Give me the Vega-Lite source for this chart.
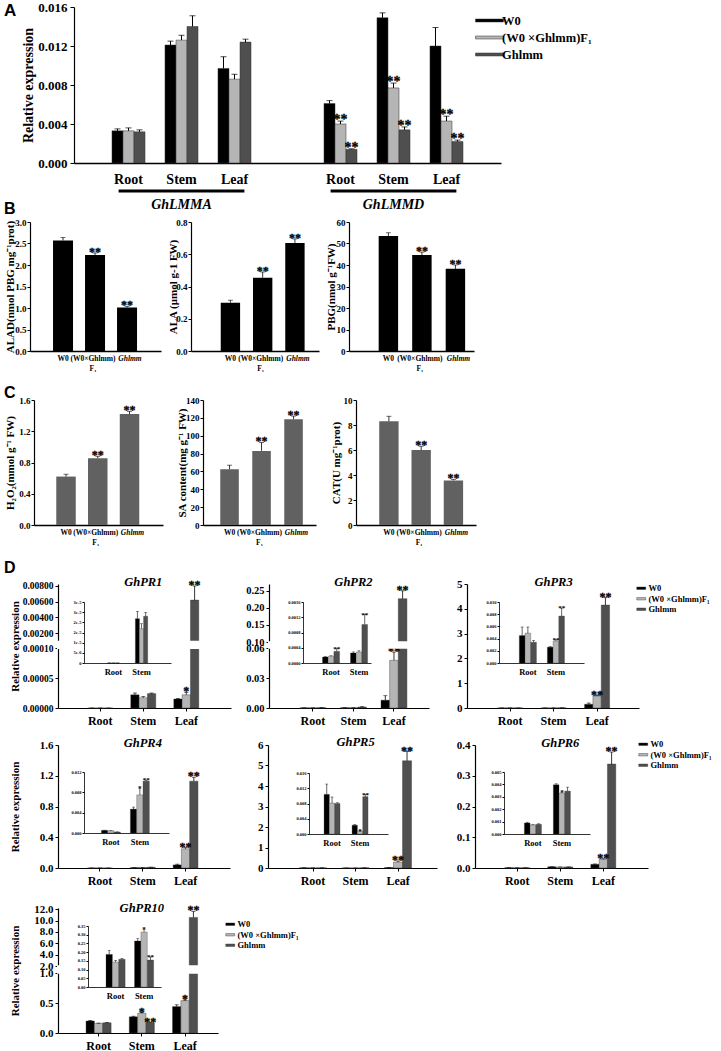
{
"$schema": "https://vega.github.io/schema/vega-lite/v6.json",
"background": "white",
"padding": {"left": 3, "top": 1, "right": 2, "bottom": 1},
"config": {
  "font": "Liberation Serif",
  "view": {"stroke": null},
  "axis": {"grid": false, "labelOverlap": false, "domainColor": "#000", "tickColor": "#000", "labelColor": "#000", "titleColor": "#000", "labelFont": "Liberation Serif", "titleFont": "Liberation Serif", "labelFontWeight": "bold", "titleFontWeight": "bold"},
  "legend": {"labelFont": "Liberation Serif", "labelFontWeight": "bold", "labelColor": "#000"},
  "title": {"font": "Liberation Sans", "fontWeight": "bold", "color": "#000"},
  "text": {"font": "Liberation Serif", "fontWeight": "bold", "color": "#000"}
},
"datasets": {
  "lmm": [
    {"x": "A-Root", "g": "W0", "v": 0.0033, "hi": 0.0035, "s": ""},
    {"x": "A-Root", "g": "F1", "v": 0.0033, "hi": 0.0036, "s": ""},
    {"x": "A-Root", "g": "Ghlmm", "v": 0.0032, "hi": 0.0034, "s": ""},
    {"x": "A-Stem", "g": "W0", "v": 0.0121, "hi": 0.0125, "s": ""},
    {"x": "A-Stem", "g": "F1", "v": 0.0126, "hi": 0.0131, "s": ""},
    {"x": "A-Stem", "g": "Ghlmm", "v": 0.0140, "hi": 0.0151, "s": ""},
    {"x": "A-Leaf", "g": "W0", "v": 0.0097, "hi": 0.0109, "s": ""},
    {"x": "A-Leaf", "g": "F1", "v": 0.0086, "hi": 0.0091, "s": ""},
    {"x": "A-Leaf", "g": "Ghlmm", "v": 0.0124, "hi": 0.0127, "s": ""},
    {"x": "D-Root", "g": "W0", "v": 0.0061, "hi": 0.0064, "s": ""},
    {"x": "D-Root", "g": "F1", "v": 0.0040, "hi": 0.0043, "s": "**"},
    {"x": "D-Root", "g": "Ghlmm", "v": 0.0014, "hi": 0.00145, "s": "**"},
    {"x": "D-Stem", "g": "W0", "v": 0.0149, "hi": 0.0154, "s": ""},
    {"x": "D-Stem", "g": "F1", "v": 0.0077, "hi": 0.0082, "s": "**"},
    {"x": "D-Stem", "g": "Ghlmm", "v": 0.0034, "hi": 0.0037, "s": "**"},
    {"x": "D-Leaf", "g": "W0", "v": 0.0120, "hi": 0.0139, "s": ""},
    {"x": "D-Leaf", "g": "F1", "v": 0.0043, "hi": 0.0048, "s": "**"},
    {"x": "D-Leaf", "g": "Ghlmm", "v": 0.0022, "hi": 0.00235, "s": "**"}
  ],
  "genes": [
    {"gene": "GhLMMA", "x1": "A-Root", "mid": "A-Stem", "x2": "A-Leaf"},
    {"gene": "GhLMMD", "x1": "D-Root", "mid": "D-Stem", "x2": "D-Leaf"}
  ],
  "b1": [{"g": "W0", "v": 2.57, "hi": 2.64, "s": ""}, {"g": "F1", "v": 2.23, "hi": 2.28, "s": "**"}, {"g": "Ghlmm", "v": 1.01, "hi": 1.04, "s": "**"}],
  "b2": [{"g": "W0", "v": 0.30, "hi": 0.315, "s": ""}, {"g": "F1", "v": 0.455, "hi": 0.49, "s": "**"}, {"g": "Ghlmm", "v": 0.67, "hi": 0.695, "s": "**"}],
  "b3": [{"g": "W0", "v": 53.5, "hi": 55.0, "s": ""}, {"g": "F1", "v": 44.6, "hi": 46.0, "s": "**"}, {"g": "Ghlmm", "v": 38.2, "hi": 40.0, "s": "**"}],
  "c1": [{"g": "W0", "v": 0.62, "hi": 0.65, "s": ""}, {"g": "F1", "v": 0.855, "hi": 0.88, "s": "**"}, {"g": "Ghlmm", "v": 1.42, "hi": 1.455, "s": "**"}],
  "c2": [{"g": "W0", "v": 62.5, "hi": 67, "s": ""}, {"g": "F1", "v": 83, "hi": 92.5, "s": "**"}, {"g": "Ghlmm", "v": 118.5, "hi": 122, "s": "**"}],
  "c3": [{"g": "W0", "v": 8.3, "hi": 8.7, "s": ""}, {"g": "F1", "v": 6.0, "hi": 6.3, "s": "**"}, {"g": "Ghlmm", "v": 3.57, "hi": 3.65, "s": "**"}],
  "pr1": [
    {"p": "m", "o": "Root", "g": "W0", "v": 0, "hi": 0, "s": ""},
    {"p": "m", "o": "Root", "g": "F1", "v": 0, "hi": 0, "s": ""},
    {"p": "m", "o": "Root", "g": "Ghlmm", "v": 0, "hi": 0, "s": ""},
    {"p": "m", "o": "Stem", "g": "W0", "v": 0.000022, "hi": 0.000025, "s": ""},
    {"p": "m", "o": "Stem", "g": "F1", "v": 0.000017, "hi": 0.000019, "s": ""},
    {"p": "m", "o": "Stem", "g": "Ghlmm", "v": 0.000024, "hi": 0.000025, "s": ""},
    {"p": "m", "o": "Leaf", "g": "W0", "v": 0.000015, "hi": 0.000016, "s": ""},
    {"p": "m", "o": "Leaf", "g": "F1", "v": 0.000022, "hi": 0.000026, "s": "*"},
    {"p": "m", "o": "Leaf", "g": "Ghlmm", "v": 0.0062, "hi": 0.0080, "s": "**"},
    {"p": "i", "o": "Root", "g": "W0", "v": 0, "hi": 0, "s": ""},
    {"p": "i", "o": "Root", "g": "F1", "v": 0, "hi": 0, "s": ""},
    {"p": "i", "o": "Root", "g": "Ghlmm", "v": 0, "hi": 0, "s": ""},
    {"p": "i", "o": "Stem", "g": "W0", "v": 0.0000218, "hi": 0.0000254, "s": ""},
    {"p": "i", "o": "Stem", "g": "F1", "v": 0.0000169, "hi": 0.0000193, "s": ""},
    {"p": "i", "o": "Stem", "g": "Ghlmm", "v": 0.000023, "hi": 0.0000249, "s": ""}
  ],
  "pr2": [
    {"p": "m", "o": "Root", "g": "W0", "v": 0.00016, "hi": 0.00017, "s": ""},
    {"p": "m", "o": "Root", "g": "F1", "v": 0.00018, "hi": 0.00019, "s": ""},
    {"p": "m", "o": "Root", "g": "Ghlmm", "v": 0.0003, "hi": 0.00038, "s": ""},
    {"p": "m", "o": "Stem", "g": "W0", "v": 0.00026, "hi": 0.00029, "s": ""},
    {"p": "m", "o": "Stem", "g": "F1", "v": 0.00029, "hi": 0.00032, "s": ""},
    {"p": "m", "o": "Stem", "g": "Ghlmm", "v": 0.001, "hi": 0.0013, "s": ""},
    {"p": "m", "o": "Leaf", "g": "W0", "v": 0.0078, "hi": 0.0123, "s": ""},
    {"p": "m", "o": "Leaf", "g": "F1", "v": 0.0477, "hi": 0.056, "s": "**"},
    {"p": "m", "o": "Leaf", "g": "Ghlmm", "v": 0.227, "hi": 0.25, "s": "**"},
    {"p": "i", "o": "Root", "g": "W0", "v": 0.000157, "hi": 0.000165, "s": ""},
    {"p": "i", "o": "Root", "g": "F1", "v": 0.000175, "hi": 0.00019, "s": ""},
    {"p": "i", "o": "Root", "g": "Ghlmm", "v": 0.000306, "hi": 0.000376, "s": "**"},
    {"p": "i", "o": "Stem", "g": "W0", "v": 0.000262, "hi": 0.00029, "s": ""},
    {"p": "i", "o": "Stem", "g": "F1", "v": 0.00029, "hi": 0.00032, "s": ""},
    {"p": "i", "o": "Stem", "g": "Ghlmm", "v": 0.00101, "hi": 0.00127, "s": "**"}
  ],
  "pr3": [
    {"p": "m", "o": "Root", "g": "W0", "v": 0.0045, "hi": 0.0045, "s": ""},
    {"p": "m", "o": "Root", "g": "F1", "v": 0.0049, "hi": 0.0049, "s": ""},
    {"p": "m", "o": "Root", "g": "Ghlmm", "v": 0.0034, "hi": 0.0034, "s": ""},
    {"p": "m", "o": "Stem", "g": "W0", "v": 0.0026, "hi": 0.0026, "s": ""},
    {"p": "m", "o": "Stem", "g": "F1", "v": 0.0036, "hi": 0.0036, "s": ""},
    {"p": "m", "o": "Stem", "g": "Ghlmm", "v": 0.0077, "hi": 0.0077, "s": ""},
    {"p": "m", "o": "Leaf", "g": "W0", "v": 0.15, "hi": 0.2, "s": ""},
    {"p": "m", "o": "Leaf", "g": "F1", "v": 0.48, "hi": 0.5, "s": "**"},
    {"p": "m", "o": "Leaf", "g": "Ghlmm", "v": 4.15, "hi": 4.45, "s": "**"},
    {"p": "i", "o": "Root", "g": "W0", "v": 0.0045, "hi": 0.0059, "s": ""},
    {"p": "i", "o": "Root", "g": "F1", "v": 0.0049, "hi": 0.0059, "s": ""},
    {"p": "i", "o": "Root", "g": "Ghlmm", "v": 0.0034, "hi": 0.0037, "s": ""},
    {"p": "i", "o": "Stem", "g": "W0", "v": 0.0026, "hi": 0.0027, "s": ""},
    {"p": "i", "o": "Stem", "g": "F1", "v": 0.0036, "hi": 0.0038, "s": "**"},
    {"p": "i", "o": "Stem", "g": "Ghlmm", "v": 0.0077, "hi": 0.009, "s": "**"}
  ],
  "pr4": [
    {"p": "m", "o": "Root", "g": "W0", "v": 0.0005, "hi": 0.0005, "s": ""},
    {"p": "m", "o": "Root", "g": "F1", "v": 0.00045, "hi": 0.00045, "s": ""},
    {"p": "m", "o": "Root", "g": "Ghlmm", "v": 0.0002, "hi": 0.0002, "s": ""},
    {"p": "m", "o": "Stem", "g": "W0", "v": 0.0047, "hi": 0.0047, "s": ""},
    {"p": "m", "o": "Stem", "g": "F1", "v": 0.0075, "hi": 0.0075, "s": ""},
    {"p": "m", "o": "Stem", "g": "Ghlmm", "v": 0.0102, "hi": 0.0102, "s": ""},
    {"p": "m", "o": "Leaf", "g": "W0", "v": 0.04, "hi": 0.05, "s": ""},
    {"p": "m", "o": "Leaf", "g": "F1", "v": 0.25, "hi": 0.265, "s": "**"},
    {"p": "m", "o": "Leaf", "g": "Ghlmm", "v": 1.13, "hi": 1.18, "s": "**"},
    {"p": "i", "o": "Root", "g": "W0", "v": 0.00052, "hi": 0.00055, "s": ""},
    {"p": "i", "o": "Root", "g": "F1", "v": 0.00045, "hi": 0.00048, "s": ""},
    {"p": "i", "o": "Root", "g": "Ghlmm", "v": 0.0002, "hi": 0.00022, "s": ""},
    {"p": "i", "o": "Stem", "g": "W0", "v": 0.0047, "hi": 0.0051, "s": ""},
    {"p": "i", "o": "Stem", "g": "F1", "v": 0.0075, "hi": 0.0088, "s": "*"},
    {"p": "i", "o": "Stem", "g": "Ghlmm", "v": 0.0102, "hi": 0.0104, "s": "**"}
  ],
  "pr5": [
    {"p": "m", "o": "Root", "g": "W0", "v": 0.0104, "hi": 0.0104, "s": ""},
    {"p": "m", "o": "Root", "g": "F1", "v": 0.0081, "hi": 0.0081, "s": ""},
    {"p": "m", "o": "Root", "g": "Ghlmm", "v": 0.008, "hi": 0.008, "s": ""},
    {"p": "m", "o": "Stem", "g": "W0", "v": 0.0023, "hi": 0.0023, "s": ""},
    {"p": "m", "o": "Stem", "g": "F1", "v": 0.0007, "hi": 0.0007, "s": ""},
    {"p": "m", "o": "Stem", "g": "Ghlmm", "v": 0.0098, "hi": 0.0098, "s": ""},
    {"p": "m", "o": "Leaf", "g": "W0", "v": 0.02, "hi": 0.02, "s": ""},
    {"p": "m", "o": "Leaf", "g": "F1", "v": 0.29, "hi": 0.34, "s": "**"},
    {"p": "m", "o": "Leaf", "g": "Ghlmm", "v": 5.23, "hi": 5.68, "s": "**"},
    {"p": "i", "o": "Root", "g": "W0", "v": 0.0104, "hi": 0.0131, "s": ""},
    {"p": "i", "o": "Root", "g": "F1", "v": 0.0081, "hi": 0.0097, "s": ""},
    {"p": "i", "o": "Root", "g": "Ghlmm", "v": 0.008, "hi": 0.0082, "s": ""},
    {"p": "i", "o": "Stem", "g": "W0", "v": 0.0023, "hi": 0.0025, "s": ""},
    {"p": "i", "o": "Stem", "g": "F1", "v": 0.0007, "hi": 0.0008, "s": "*"},
    {"p": "i", "o": "Stem", "g": "Ghlmm", "v": 0.0098, "hi": 0.0103, "s": "**"}
  ],
  "pr6": [
    {"p": "m", "o": "Root", "g": "W0", "v": 0.0009, "hi": 0.0009, "s": ""},
    {"p": "m", "o": "Root", "g": "F1", "v": 0.0007, "hi": 0.0007, "s": ""},
    {"p": "m", "o": "Root", "g": "Ghlmm", "v": 0.0008, "hi": 0.0008, "s": ""},
    {"p": "m", "o": "Stem", "g": "W0", "v": 0.004, "hi": 0.004, "s": ""},
    {"p": "m", "o": "Stem", "g": "F1", "v": 0.0033, "hi": 0.0033, "s": ""},
    {"p": "m", "o": "Stem", "g": "Ghlmm", "v": 0.0035, "hi": 0.0035, "s": ""},
    {"p": "m", "o": "Leaf", "g": "W0", "v": 0.012, "hi": 0.013, "s": ""},
    {"p": "m", "o": "Leaf", "g": "F1", "v": 0.028, "hi": 0.03, "s": "**"},
    {"p": "m", "o": "Leaf", "g": "Ghlmm", "v": 0.338, "hi": 0.377, "s": "**"},
    {"p": "i", "o": "Root", "g": "W0", "v": 0.00089, "hi": 0.00095, "s": ""},
    {"p": "i", "o": "Root", "g": "F1", "v": 0.00073, "hi": 0.00076, "s": ""},
    {"p": "i", "o": "Root", "g": "Ghlmm", "v": 0.00078, "hi": 0.00082, "s": ""},
    {"p": "i", "o": "Stem", "g": "W0", "v": 0.00397, "hi": 0.00405, "s": ""},
    {"p": "i", "o": "Stem", "g": "F1", "v": 0.0033, "hi": 0.00335, "s": "*"},
    {"p": "i", "o": "Stem", "g": "Ghlmm", "v": 0.00346, "hi": 0.00378, "s": ""}
  ],
  "pr10": [
    {"p": "m", "o": "Root", "g": "W0", "v": 0.2, "hi": 0.21, "s": ""},
    {"p": "m", "o": "Root", "g": "F1", "v": 0.16, "hi": 0.165, "s": ""},
    {"p": "m", "o": "Root", "g": "Ghlmm", "v": 0.17, "hi": 0.175, "s": ""},
    {"p": "m", "o": "Stem", "g": "W0", "v": 0.27, "hi": 0.28, "s": ""},
    {"p": "m", "o": "Stem", "g": "F1", "v": 0.33, "hi": 0.34, "s": "*"},
    {"p": "m", "o": "Stem", "g": "Ghlmm", "v": 0.166, "hi": 0.175, "s": "**"},
    {"p": "m", "o": "Leaf", "g": "W0", "v": 0.44, "hi": 0.47, "s": ""},
    {"p": "m", "o": "Leaf", "g": "F1", "v": 0.54, "hi": 0.55, "s": "*"},
    {"p": "m", "o": "Leaf", "g": "Ghlmm", "v": 10.55, "hi": 11.6, "s": "**"},
    {"p": "i", "o": "Root", "g": "W0", "v": 0.187, "hi": 0.21, "s": ""},
    {"p": "i", "o": "Root", "g": "F1", "v": 0.143, "hi": 0.153, "s": ""},
    {"p": "i", "o": "Root", "g": "Ghlmm", "v": 0.159, "hi": 0.164, "s": ""},
    {"p": "i", "o": "Stem", "g": "W0", "v": 0.264, "hi": 0.277, "s": ""},
    {"p": "i", "o": "Stem", "g": "F1", "v": 0.315, "hi": 0.33, "s": "*"},
    {"p": "i", "o": "Stem", "g": "Ghlmm", "v": 0.155, "hi": 0.172, "s": "**"}
  ]
},
"resolve": {"scale": {"color": "independent"}},
"spacing": -12,
"vconcat": [
 {
  "bounds": "flush", "spacing": 0,
  "resolve": {"scale": {"color": "independent"}},
  "hconcat": [
   {"width": 70, "height": 156, "title": {"text": "A", "anchor": "start", "frame": "group", "baseline": "top", "offset": -12.5, "fontSize": 17}, "data": {"values": []}, "mark": "rule", "encoding": {}},
   {
    "width": 427, "height": 156,
    "layer": [
     {"data": {"name": "lmm"},
      "encoding": {
        "x": {"field": "x", "type": "nominal", "scale": {"domain": ["A-Root", "A-Stem", "A-Leaf", "gap", "D-Root", "D-Stem", "D-Leaf"], "paddingInner": 0.377, "paddingOuter": 0.717, "align": 0.5}, "axis": {"title": null, "labelAngle": 0, "ticks": false, "labelFontSize": 14, "labelPadding": 9, "domainWidth": 1.5, "labelExpr": "datum.value == 'gap' ? '' : slice(datum.value, 2)"}},
        "xOffset": {"field": "g", "type": "nominal", "scale": {"domain": ["W0", "F1", "Ghlmm"]}}
      },
      "layer": [
       {"mark": {"type": "bar", "stroke": "#333", "strokeWidth": 0.5},
        "encoding": {
          "y": {"field": "v", "type": "quantitative", "scale": {"domain": [0, 0.016], "nice": false}, "axis": {"values": [0, 0.004, 0.008, 0.012, 0.016], "tickCount": 20, "format": ".3f", "labelOverlap": false, "title": "Relative expression", "titleFontSize": 14, "titlePadding": 3, "minExtent": 36, "maxExtent": 36, "labelFontSize": 13, "tickSize": 4, "labelPadding": 3, "domainWidth": 1.2}},
          "color": {"field": "g", "type": "nominal", "scale": {"domain": ["W0", "F1", "Ghlmm"], "range": ["#000000", "#b5b5b5", "#4f4f4f"]},
            "legend": {"title": null, "orient": "none", "legendX": 409, "legendY": 7, "padding": 0, "symbolType": "M-2.33,-0.25H2.33V0.25H-2.33Z", "symbolSize": 144, "symbolStrokeColor": "#333", "symbolStrokeWidth": 0.5, "labelFontSize": 12.5, "labelOffset": 6, "rowPadding": 4, "labelExpr": "datum.value == 'F1' ? '(W0 ×Ghlmm)F₁' : datum.value"}}
        }},
       {"mark": {"type": "rule", "color": "#000", "strokeWidth": 1}, "encoding": {"y": {"field": "v", "type": "quantitative"}, "y2": {"field": "hi"}}},
       {"mark": {"type": "tick", "orient": "horizontal", "color": "#000", "size": 6, "thickness": 1}, "encoding": {"y": {"field": "hi", "type": "quantitative"}}},
       {"mark": {"type": "text", "color": "#000", "fill": "#000", "stroke": "#000", "strokeWidth": 0.3, "fontSize": 14, "baseline": "alphabetic", "dy": 3}, "encoding": {"y": {"field": "hi", "type": "quantitative"}, "text": {"field": "s"}}}
      ]},
     {"data": {"name": "genes"}, "mark": {"type": "rule", "color": "#000", "strokeWidth": 3}, "encoding": {"x": {"field": "x1", "type": "nominal", "bandPosition": 0.2}, "x2": {"field": "x2", "bandPosition": 0.8}, "y": {"datum": -0.00287}}},
     {"data": {"name": "genes"}, "mark": {"type": "text", "color": "#000", "fontSize": 14, "fontStyle": "italic", "baseline": "middle"}, "encoding": {"x": {"field": "mid", "type": "nominal"}, "y": {"datum": -0.0043}, "text": {"field": "gene"}}}
    ]
   }
  ]
 },
 {
  "spacing": 12,
  "resolve": {"scale": {"color": "independent"}},
  "vconcat": [
   {
    "bounds": "flush", "spacing": 0,
    "hconcat": [
     {"width": 26, "height": 129, "title": {"text": "B", "anchor": "start", "frame": "group", "baseline": "top", "offset": 5.5, "fontSize": 16}, "data": {"values": []}, "mark": "rule", "encoding": {}},
     {
      "bounds": "flush", "spacing": 30,
      "hconcat": [
       {"width": 131, "height": 129, "data": {"name": "b1"},
        "encoding": {"x": {"field": "g", "type": "nominal", "scale": {"domain": ["W0", "F1", "Ghlmm"], "paddingInner": 0.375, "paddingOuter": 0.734, "align": 0.49}, "axis": {"title": null, "labelAngle": 0, "ticks": false, "labelFontSize": 7.5, "labelPadding": 3, "domainWidth": 1.5, "labelLineHeight": 10, "labelFontStyle": {"condition": {"test": "datum.value == 'Ghlmm'", "value": "italic"}, "value": "normal"}, "labelOffset": {"condition": [{"test": "datum.value == 'F1'", "value": -2}, {"test": "datum.value == 'Ghlmm'", "value": 3}], "value": 0}, "labelExpr": "datum.value == 'F1' ? ['(W0×Ghlmm)', 'F₁'] : datum.value"}}},
        "layer": [
         {"mark": {"type": "bar", "color": "#000"}, "encoding": {"y": {"field": "v", "type": "quantitative", "scale": {"domain": [0, 3], "nice": false}, "axis": {"values": [0, 0.5, 1, 1.5, 2, 2.5, 3], "tickCount": 20, "format": ".1f", "labelOverlap": false, "title": "ALAD(nmol PBG mg⁻¹prot)", "titleFontSize": 11, "titlePadding": 1, "minExtent": 14, "maxExtent": 14, "labelFontSize": 9, "tickSize": 3, "labelPadding": 1, "domainWidth": 1.2}}}},
         {"mark": {"type": "rule", "color": "#000", "strokeWidth": 0.8}, "encoding": {"y": {"field": "v", "type": "quantitative"}, "y2": {"field": "hi"}}},
         {"mark": {"type": "tick", "orient": "horizontal", "color": "#000", "size": 5, "thickness": 0.8}, "encoding": {"y": {"field": "hi", "type": "quantitative"}}},
         {"mark": {"type": "text", "color": "#000", "fill": "#000", "stroke": "#000", "strokeWidth": 0.3, "fontSize": 12, "baseline": "alphabetic", "dy": 3}, "encoding": {"y": {"field": "hi", "type": "quantitative"}, "text": {"field": "s"}}}
        ]},
       {"width": 128, "height": 129, "data": {"name": "b2"},
        "encoding": {"x": {"field": "g", "type": "nominal", "scale": {"domain": ["W0", "F1", "Ghlmm"], "paddingInner": 0.4, "paddingOuter": 0.684, "align": 0.674}, "axis": {"title": null, "labelAngle": 0, "ticks": false, "labelFontSize": 7.5, "labelPadding": 3, "domainWidth": 1.5, "labelLineHeight": 10, "labelFontStyle": {"condition": {"test": "datum.value == 'Ghlmm'", "value": "italic"}, "value": "normal"}, "labelOffset": {"condition": [{"test": "datum.value == 'F1'", "value": -2}, {"test": "datum.value == 'Ghlmm'", "value": 3}], "value": 0}, "labelExpr": "datum.value == 'F1' ? ['(W0×Ghlmm)', 'F₁'] : datum.value"}}},
        "layer": [
         {"mark": {"type": "bar", "color": "#000"}, "encoding": {"y": {"field": "v", "type": "quantitative", "scale": {"domain": [0, 0.8], "nice": false}, "axis": {"values": [0, 0.2, 0.4, 0.6, 0.8], "tickCount": 20, "format": ".1f", "labelOverlap": false, "title": "ALA (μmol g-1 FW)", "titleFontSize": 11, "titlePadding": 1, "minExtent": 12, "maxExtent": 12, "labelFontSize": 9, "tickSize": 3, "labelPadding": 1, "domainWidth": 1.2}}}},
         {"mark": {"type": "rule", "color": "#000", "strokeWidth": 0.8}, "encoding": {"y": {"field": "v", "type": "quantitative"}, "y2": {"field": "hi"}}},
         {"mark": {"type": "tick", "orient": "horizontal", "color": "#000", "size": 5, "thickness": 0.8}, "encoding": {"y": {"field": "hi", "type": "quantitative"}}},
         {"mark": {"type": "text", "color": "#000", "fill": "#000", "stroke": "#000", "strokeWidth": 0.3, "fontSize": 12, "baseline": "alphabetic", "dy": 3}, "encoding": {"y": {"field": "hi", "type": "quantitative"}, "text": {"field": "s"}}}
        ]},
       {"width": 125, "height": 129, "data": {"name": "b3"},
        "encoding": {"x": {"field": "g", "type": "nominal", "scale": {"domain": ["W0", "F1", "Ghlmm"], "paddingInner": 0.42, "paddingOuter": 0.575, "align": 0.77}, "axis": {"title": null, "labelAngle": 0, "ticks": false, "labelFontSize": 7.5, "labelPadding": 3, "domainWidth": 1.5, "labelLineHeight": 10, "labelFontStyle": {"condition": {"test": "datum.value == 'Ghlmm'", "value": "italic"}, "value": "normal"}, "labelOffset": {"condition": [{"test": "datum.value == 'F1'", "value": -2}, {"test": "datum.value == 'Ghlmm'", "value": 3}], "value": 0}, "labelExpr": "datum.value == 'F1' ? ['(W0×Ghlmm)', 'F₁'] : datum.value"}}},
        "layer": [
         {"mark": {"type": "bar", "color": "#000"}, "encoding": {"y": {"field": "v", "type": "quantitative", "scale": {"domain": [0, 60], "nice": false}, "axis": {"values": [0, 10, 20, 30, 40, 50, 60], "tickCount": 20, "format": "d", "labelOverlap": false, "title": "PBG(nmol g⁻¹FW)", "titleFontSize": 11, "titlePadding": 1, "minExtent": 12, "maxExtent": 12, "labelFontSize": 9, "tickSize": 3, "labelPadding": 1, "domainWidth": 1.2}}}},
         {"mark": {"type": "rule", "color": "#000", "strokeWidth": 0.8}, "encoding": {"y": {"field": "v", "type": "quantitative"}, "y2": {"field": "hi"}}},
         {"mark": {"type": "tick", "orient": "horizontal", "color": "#000", "size": 5, "thickness": 0.8}, "encoding": {"y": {"field": "hi", "type": "quantitative"}}},
         {"mark": {"type": "text", "color": "#000", "fill": "#000", "stroke": "#000", "strokeWidth": 0.3, "fontSize": 12, "baseline": "alphabetic", "dy": 3}, "encoding": {"y": {"field": "hi", "type": "quantitative"}, "text": {"field": "s"}}}
        ]}
      ]
     }
    ]
   },
   {
    "spacing": 13,
    "resolve": {"scale": {"color": "independent"}},
    "vconcat": [
     {
      "bounds": "flush", "spacing": 0,
      "hconcat": [
       {"width": 30, "height": 125, "title": {"text": "C", "anchor": "start", "frame": "group", "baseline": "top", "offset": -0.5, "fontSize": 16}, "data": {"values": []}, "mark": "rule", "encoding": {}},
       {
        "bounds": "flush", "spacing": 40,
        "hconcat": [
         {"width": 129, "height": 125, "data": {"name": "c1"},
          "encoding": {"x": {"field": "g", "type": "nominal", "scale": {"domain": ["W0", "F1", "Ghlmm"], "paddingInner": 0.386, "paddingOuter": 0.7245, "align": 0.484}, "axis": {"title": null, "labelAngle": 0, "ticks": false, "labelFontSize": 7.5, "labelPadding": 3, "domainWidth": 1.5, "labelLineHeight": 10, "labelFontStyle": {"condition": {"test": "datum.value == 'Ghlmm'", "value": "italic"}, "value": "normal"}, "labelOffset": {"condition": [{"test": "datum.value == 'F1'", "value": -2}, {"test": "datum.value == 'Ghlmm'", "value": 3}], "value": 0}, "labelExpr": "datum.value == 'F1' ? ['(W0×Ghlmm)', 'F₁'] : datum.value"}}},
          "layer": [
           {"mark": {"type": "bar", "color": "#616161"}, "encoding": {"y": {"field": "v", "type": "quantitative", "scale": {"domain": [0, 1.6], "nice": false}, "axis": {"values": [0, 0.4, 0.8, 1.2, 1.6], "tickCount": 20, "format": ".1f", "labelOverlap": false, "title": "H₂O₂(mmol g⁻¹ FW)", "titleFontSize": 11, "titlePadding": 5, "minExtent": 14, "maxExtent": 14, "labelFontSize": 9, "tickSize": 3, "labelPadding": 1, "domainWidth": 1.2}}}},
           {"mark": {"type": "rule", "color": "#000", "strokeWidth": 0.8}, "encoding": {"y": {"field": "v", "type": "quantitative"}, "y2": {"field": "hi"}}},
           {"mark": {"type": "tick", "orient": "horizontal", "color": "#000", "size": 5, "thickness": 0.8}, "encoding": {"y": {"field": "hi", "type": "quantitative"}}},
           {"mark": {"type": "text", "color": "#000", "fill": "#000", "stroke": "#000", "strokeWidth": 0.3, "fontSize": 12, "baseline": "alphabetic", "dy": 3}, "encoding": {"y": {"field": "hi", "type": "quantitative"}, "text": {"field": "s"}}}
          ]},
         {"width": 113, "height": 125, "data": {"name": "c2"},
          "encoding": {"x": {"field": "g", "type": "nominal", "scale": {"domain": ["W0", "F1", "Ghlmm"], "paddingInner": 0.42, "paddingOuter": 0.4755, "align": 0.567}, "axis": {"title": null, "labelAngle": 0, "ticks": false, "labelFontSize": 7.5, "labelPadding": 3, "domainWidth": 1.5, "labelLineHeight": 10, "labelFontStyle": {"condition": {"test": "datum.value == 'Ghlmm'", "value": "italic"}, "value": "normal"}, "labelOffset": {"condition": [{"test": "datum.value == 'F1'", "value": -2}, {"test": "datum.value == 'Ghlmm'", "value": 3}], "value": 0}, "labelExpr": "datum.value == 'F1' ? ['(W0×Ghlmm)', 'F₁'] : datum.value"}}},
          "layer": [
           {"mark": {"type": "bar", "color": "#616161"}, "encoding": {"y": {"field": "v", "type": "quantitative", "scale": {"domain": [0, 140], "nice": false}, "axis": {"values": [0, 20, 40, 60, 80, 100, 120, 140], "tickCount": 20, "format": "d", "labelOverlap": false, "title": "SA content(mg g⁻¹ FW)", "titleFontSize": 11, "titlePadding": 1, "minExtent": 15, "maxExtent": 15, "labelFontSize": 9, "tickSize": 3, "labelPadding": 1, "domainWidth": 1.2}}}},
           {"mark": {"type": "rule", "color": "#000", "strokeWidth": 0.8}, "encoding": {"y": {"field": "v", "type": "quantitative"}, "y2": {"field": "hi"}}},
           {"mark": {"type": "tick", "orient": "horizontal", "color": "#000", "size": 5, "thickness": 0.8}, "encoding": {"y": {"field": "hi", "type": "quantitative"}}},
           {"mark": {"type": "text", "color": "#000", "fill": "#000", "stroke": "#000", "strokeWidth": 0.3, "fontSize": 12, "baseline": "alphabetic", "dy": 3}, "encoding": {"y": {"field": "hi", "type": "quantitative"}, "text": {"field": "s"}}}
          ]},
         {"width": 120, "height": 125, "data": {"name": "c3"},
          "encoding": {"x": {"field": "g", "type": "nominal", "scale": {"domain": ["W0", "F1", "Ghlmm"], "paddingInner": 0.4, "paddingOuter": 0.56, "align": 0.643}, "axis": {"title": null, "labelAngle": 0, "ticks": false, "labelFontSize": 7.5, "labelPadding": 3, "domainWidth": 1.5, "labelLineHeight": 10, "labelFontStyle": {"condition": {"test": "datum.value == 'Ghlmm'", "value": "italic"}, "value": "normal"}, "labelOffset": {"condition": [{"test": "datum.value == 'F1'", "value": -2}, {"test": "datum.value == 'Ghlmm'", "value": 3}], "value": 0}, "labelExpr": "datum.value == 'F1' ? ['(W0×Ghlmm)', 'F₁'] : datum.value"}}},
          "layer": [
           {"mark": {"type": "bar", "color": "#616161"}, "encoding": {"y": {"field": "v", "type": "quantitative", "scale": {"domain": [0, 10], "nice": false}, "axis": {"values": [0, 2, 4, 6, 8, 10], "tickCount": 20, "format": "d", "labelOverlap": false, "title": "CAT(U mg⁻¹prot)", "titleFontSize": 11, "titlePadding": 1, "minExtent": 14, "maxExtent": 14, "labelFontSize": 9, "tickSize": 3, "labelPadding": 1, "domainWidth": 1.2}}}},
           {"mark": {"type": "rule", "color": "#000", "strokeWidth": 0.8}, "encoding": {"y": {"field": "v", "type": "quantitative"}, "y2": {"field": "hi"}}},
           {"mark": {"type": "tick", "orient": "horizontal", "color": "#000", "size": 5, "thickness": 0.8}, "encoding": {"y": {"field": "hi", "type": "quantitative"}}},
           {"mark": {"type": "text", "color": "#000", "fill": "#000", "stroke": "#000", "strokeWidth": 0.3, "fontSize": 12, "baseline": "alphabetic", "dy": 3}, "encoding": {"y": {"field": "hi", "type": "quantitative"}, "text": {"field": "s"}}}
          ]}
        ]
       }
      ]
     },
     {
      "spacing": 10,
      "resolve": {"scale": {"color": "independent"}},
      "vconcat": [
       {
        "bounds": "flush", "spacing": 0,
        "resolve": {"scale": {"color": "independent"}},
        "hconcat": [
         {"width": 54, "height": 124, "title": {"text": "D", "anchor": "start", "frame": "group", "baseline": "top", "offset": 8.5, "fontSize": 16}, "data": {"values": []}, "mark": "rule", "encoding": {}},
         {
          "bounds": "flush", "spacing": 38,
          "resolve": {"scale": {"color": "independent"}},
          "hconcat": [
           {"width": 173, "height": 124, "data": {"name": "pr1"},
            "resolve": {"scale": {"x": "independent", "y": "independent", "xOffset": "independent"}},
            "layer": [
             {"layer": [
               {"transform": [{"filter": "datum.p == 'm'"}],
                "encoding": {
                  "x": {"field": "o", "type": "nominal", "scale": {"domain": ["Root", "Stem", "Leaf"], "paddingInner": 0.42, "paddingOuter": 0.72, "align": 0.48}, "axis": {"title": null, "labelAngle": 0, "labelFontSize": 12, "labelPadding": 4, "tickSize": 3, "domainWidth": 1.2}},
                  "xOffset": {"field": "g", "type": "nominal", "scale": {"domain": ["W0", "F1", "Ghlmm"]}}},
                "layer": [
                 {"mark": {"type": "bar", "stroke": "#333", "strokeWidth": 0.4}, "encoding": {
                   "y": {"field": "v", "type": "quantitative", "scale": {"domain": [0, 0.0001, 0.00825], "range": [124, 64, 0], "nice": false, "zero": false}, "axis": {"values": [0, 0.00005, 0.0001, 0.002, 0.004, 0.006, 0.008], "tickCount": 20, "format": ".5f", "labelOverlap": false, "title": "Relative expression", "titleFontSize": 11, "titlePadding": 0, "minExtent": 38, "maxExtent": 38, "labelFontSize": 9.5, "tickSize": 3, "labelPadding": 2, "domainWidth": 1.2}},
                   "color": {"field": "g", "type": "nominal", "scale": {"domain": ["W0", "F1", "Ghlmm"], "range": ["#000000", "#b5b5b5", "#4f4f4f"]}, "legend": null}}},
                 {"mark": {"type": "rule", "color": "#000", "strokeWidth": 0.8}, "encoding": {"y": {"field": "v", "type": "quantitative"}, "y2": {"field": "hi"}}},
                 {"mark": {"type": "tick", "orient": "horizontal", "color": "#000", "size": 4, "thickness": 0.8}, "encoding": {"y": {"field": "hi", "type": "quantitative"}}},
                 {"mark": {"type": "text", "color": "#000", "fill": "#000", "stroke": "#000", "strokeWidth": 0.3, "fontSize": 12, "baseline": "alphabetic", "dy": 3}, "encoding": {"y": {"field": "hi", "type": "quantitative"}, "text": {"field": "s"}}}
                ]},
               {"data": {"values": [{"k": 1}]}, "mark": {"type": "rect", "color": "#fff", "stroke": "#fff", "strokeWidth": 2}, "encoding": {"y": {"datum": 0.0001}, "y2": {"datum": 0.0009}}},
               {"data": {"values": [{"t": "GhPR1"}]}, "mark": {"type": "text", "color": "#000", "fontSize": 12.5, "fontStyle": "italic", "baseline": "middle", "dy": -2}, "encoding": {"x": {"datum": "Stem"}, "y": {"datum": 0.00825}, "text": {"field": "t"}}}
             ]},
             {"transform": [{"filter": "datum.p == 'i'"}],
              "encoding": {
                "x": {"field": "o", "type": "nominal", "scale": {"domain": ["Root", "Stem"], "range": [26, 113], "paddingInner": 0.56, "paddingOuter": 0.83, "align": 0.5}, "axis": {"orient": "bottom", "offset": -45, "title": null, "labelAngle": 0, "labelFontSize": 8.5, "labelPadding": 4, "ticks": false, "domainWidth": 0.8, "zindex": 1}},
                "xOffset": {"field": "g", "type": "nominal", "scale": {"domain": ["W0", "F1", "Ghlmm"]}}},
              "layer": [
               {"mark": {"type": "bar", "stroke": "#333", "strokeWidth": 0.3}, "encoding": {
                 "y": {"field": "v", "type": "quantitative", "scale": {"domain": [0, 0.00003], "range": [79, 18], "nice": false, "zero": false}, "axis": {"orient": "left", "offset": -26, "values": [0, 0.000005, 0.00001, 0.000015, 0.00002, 0.000025, 0.00003], "tickCount": 20, "labelOverlap": false, "labelExpr": "datum.value == 0 ? '0' : format(datum.value, '.0e')", "title": null, "labelFontSize": 4.5, "tickSize": 2, "labelPadding": 1, "domainWidth": 0.8, "zindex": 1}},
                 "color": {"field": "g", "type": "nominal", "scale": {"domain": ["W0", "F1", "Ghlmm"], "range": ["#000000", "#b5b5b5", "#4f4f4f"]}, "legend": null}}},
               {"mark": {"type": "rule", "color": "#000", "strokeWidth": 0.6}, "encoding": {"y": {"field": "v", "type": "quantitative"}, "y2": {"field": "hi"}}},
               {"mark": {"type": "tick", "orient": "horizontal", "color": "#000", "size": 3, "thickness": 0.6}, "encoding": {"y": {"field": "hi", "type": "quantitative"}}},
               {"mark": {"type": "text", "color": "#000", "fill": "#000", "fontSize": 7, "baseline": "alphabetic", "dy": 2}, "encoding": {"y": {"field": "hi", "type": "quantitative"}, "text": {"field": "s"}}}
              ]}
            ]},
           {"width": 160, "height": 124, "data": {"name": "pr2"},
            "resolve": {"scale": {"x": "independent", "y": "independent", "xOffset": "independent"}},
            "layer": [
             {"layer": [
               {"transform": [{"filter": "datum.p == 'm'"}],
                "encoding": {
                  "x": {"field": "o", "type": "nominal", "scale": {"domain": ["Root", "Stem", "Leaf"], "paddingInner": 0.36, "paddingOuter": 0.655, "align": 0.584}, "axis": {"title": null, "labelAngle": 0, "labelFontSize": 12, "labelPadding": 4, "tickSize": 3, "domainWidth": 1.2}},
                  "xOffset": {"field": "g", "type": "nominal", "scale": {"domain": ["W0", "F1", "Ghlmm"]}}},
                "layer": [
                 {"mark": {"type": "bar", "stroke": "#333", "strokeWidth": 0.4}, "encoding": {
                   "y": {"field": "v", "type": "quantitative", "scale": {"domain": [0, 0.06, 0.1, 0.27], "range": [124, 64, 58, 0], "nice": false, "zero": false}, "axis": {"values": [0, 0.03, 0.06, 0.1, 0.15, 0.2, 0.25], "tickCount": 20, "format": ".2f", "labelOverlap": false, "title": null, "labelFontSize": 10.5, "tickSize": 3, "labelPadding": 2, "domainWidth": 1.2}},
                   "color": {"field": "g", "type": "nominal", "scale": {"domain": ["W0", "F1", "Ghlmm"], "range": ["#000000", "#b5b5b5", "#4f4f4f"]}, "legend": null}}},
                 {"mark": {"type": "rule", "color": "#000", "strokeWidth": 0.8}, "encoding": {"y": {"field": "v", "type": "quantitative"}, "y2": {"field": "hi"}}},
                 {"mark": {"type": "tick", "orient": "horizontal", "color": "#000", "size": 4, "thickness": 0.8}, "encoding": {"y": {"field": "hi", "type": "quantitative"}}},
                 {"mark": {"type": "text", "color": "#000", "fill": "#000", "stroke": "#000", "strokeWidth": 0.3, "fontSize": 12, "baseline": "alphabetic", "dy": 3}, "encoding": {"y": {"field": "hi", "type": "quantitative"}, "text": {"field": "s"}}}
                ]},
               {"data": {"values": [{"k": 1}]}, "mark": {"type": "rect", "color": "#fff", "stroke": "#fff", "strokeWidth": 2}, "encoding": {"y": {"datum": 0.061}, "y2": {"datum": 0.099}}},
               {"data": {"values": [{"t": "GhPR2"}]}, "mark": {"type": "text", "color": "#000", "fontSize": 12.5, "fontStyle": "italic", "baseline": "middle", "dy": -2}, "encoding": {"x": {"datum": "Stem"}, "y": {"datum": 0.27}, "text": {"field": "t"}}}
             ]},
             {"transform": [{"filter": "datum.p == 'i'"}],
              "encoding": {
                "x": {"field": "o", "type": "nominal", "scale": {"domain": ["Root", "Stem"], "range": [34, 102], "paddingInner": 0.39, "paddingOuter": 0.41, "align": 0.85}, "axis": {"orient": "bottom", "offset": -45, "title": null, "labelAngle": 0, "labelFontSize": 8.5, "labelPadding": 4, "ticks": false, "domainWidth": 0.8, "zindex": 1}},
                "xOffset": {"field": "g", "type": "nominal", "scale": {"domain": ["W0", "F1", "Ghlmm"]}}},
              "layer": [
               {"mark": {"type": "bar", "stroke": "#333", "strokeWidth": 0.3}, "encoding": {
                 "y": {"field": "v", "type": "quantitative", "scale": {"domain": [0, 0.0016], "range": [79, 18], "nice": false, "zero": false}, "axis": {"orient": "left", "offset": -34, "values": [0, 0.0004, 0.0008, 0.0012, 0.0016], "tickCount": 20, "format": ".4f", "labelOverlap": false, "title": null, "labelFontSize": 4.5, "tickSize": 2, "labelPadding": 1, "domainWidth": 0.8, "zindex": 1}},
                 "color": {"field": "g", "type": "nominal", "scale": {"domain": ["W0", "F1", "Ghlmm"], "range": ["#000000", "#b5b5b5", "#4f4f4f"]}, "legend": null}}},
               {"mark": {"type": "rule", "color": "#000", "strokeWidth": 0.6}, "encoding": {"y": {"field": "v", "type": "quantitative"}, "y2": {"field": "hi"}}},
               {"mark": {"type": "tick", "orient": "horizontal", "color": "#000", "size": 3, "thickness": 0.6}, "encoding": {"y": {"field": "hi", "type": "quantitative"}}},
               {"mark": {"type": "text", "color": "#000", "fill": "#000", "fontSize": 7, "baseline": "alphabetic", "dy": 2}, "encoding": {"y": {"field": "hi", "type": "quantitative"}, "text": {"field": "s"}}}
              ]}
            ]},
           {"width": 172, "height": 124, "data": {"name": "pr3"},
            "resolve": {"scale": {"x": "independent", "y": "independent", "xOffset": "independent"}},
            "layer": [
             {"layer": [
               {"transform": [{"filter": "datum.p == 'm'"}],
                "encoding": {
                  "x": {"field": "o", "type": "nominal", "scale": {"domain": ["Root", "Stem", "Leaf"], "paddingInner": 0.425, "paddingOuter": 0.69, "align": 0.51}, "axis": {"title": null, "labelAngle": 0, "labelFontSize": 12, "labelPadding": 4, "tickSize": 3, "domainWidth": 1.2}},
                  "xOffset": {"field": "g", "type": "nominal", "scale": {"domain": ["W0", "F1", "Ghlmm"]}}},
                "layer": [
                 {"mark": {"type": "bar", "stroke": "#333", "strokeWidth": 0.4}, "encoding": {
                   "y": {"field": "v", "type": "quantitative", "scale": {"domain": [0, 5], "nice": false}, "axis": {"values": [0, 1, 2, 3, 4, 5], "tickCount": 20, "format": "d", "labelOverlap": false, "title": null, "labelFontSize": 11, "tickSize": 3, "labelPadding": 2, "domainWidth": 1.2}},
                   "color": {"field": "g", "type": "nominal", "scale": {"domain": ["W0", "F1", "Ghlmm"], "range": ["#000000", "#b5b5b5", "#4f4f4f"]},
                     "legend": {"title": null, "orient": "none", "legendX": 170, "legendY": 0, "padding": 0, "symbolType": "M-1.8,-0.5H1.8V0.5H-1.8Z", "symbolSize": 25, "symbolStrokeColor": "#333", "symbolStrokeWidth": 0.4, "labelFontSize": 8.5, "labelOffset": 3, "rowPadding": 1.5, "labelExpr": "datum.value == 'F1' ? '(W0 ×Ghlmm)F₁' : datum.value"}}}},
                 {"mark": {"type": "rule", "color": "#000", "strokeWidth": 0.8}, "encoding": {"y": {"field": "v", "type": "quantitative"}, "y2": {"field": "hi"}}},
                 {"mark": {"type": "tick", "orient": "horizontal", "color": "#000", "size": 4, "thickness": 0.8}, "encoding": {"y": {"field": "hi", "type": "quantitative"}}},
                 {"mark": {"type": "text", "color": "#000", "fill": "#000", "stroke": "#000", "strokeWidth": 0.3, "fontSize": 12, "baseline": "alphabetic", "dy": 3}, "encoding": {"y": {"field": "hi", "type": "quantitative"}, "text": {"field": "s"}}}
                ]},
               {"data": {"values": [{"t": "GhPR3"}]}, "mark": {"type": "text", "color": "#000", "fontSize": 12.5, "fontStyle": "italic", "baseline": "middle", "dy": -2}, "encoding": {"x": {"datum": "Stem"}, "y": {"datum": 5}, "text": {"field": "t"}}}
             ]},
             {"transform": [{"filter": "datum.p == 'i'"}],
              "encoding": {
                "x": {"field": "o", "type": "nominal", "scale": {"domain": ["Root", "Stem"], "range": [32, 117], "paddingInner": 0.39, "paddingOuter": 0.71, "align": 0.51}, "axis": {"orient": "bottom", "offset": -45, "title": null, "labelAngle": 0, "labelFontSize": 8.5, "labelPadding": 4, "ticks": false, "domainWidth": 0.8, "zindex": 1}},
                "xOffset": {"field": "g", "type": "nominal", "scale": {"domain": ["W0", "F1", "Ghlmm"]}}},
              "layer": [
               {"mark": {"type": "bar", "stroke": "#333", "strokeWidth": 0.3}, "encoding": {
                 "y": {"field": "v", "type": "quantitative", "scale": {"domain": [0, 0.01], "range": [79, 18], "nice": false, "zero": false}, "axis": {"orient": "left", "offset": -32, "values": [0, 0.002, 0.004, 0.006, 0.008, 0.01], "tickCount": 20, "format": ".3f", "labelOverlap": false, "title": null, "labelFontSize": 4.5, "tickSize": 2, "labelPadding": 1, "domainWidth": 0.8, "zindex": 1}},
                 "color": {"field": "g", "type": "nominal", "scale": {"domain": ["W0", "F1", "Ghlmm"], "range": ["#000000", "#b5b5b5", "#4f4f4f"]}, "legend": null}}},
               {"mark": {"type": "rule", "color": "#000", "strokeWidth": 0.6}, "encoding": {"y": {"field": "v", "type": "quantitative"}, "y2": {"field": "hi"}}},
               {"mark": {"type": "tick", "orient": "horizontal", "color": "#000", "size": 3, "thickness": 0.6}, "encoding": {"y": {"field": "hi", "type": "quantitative"}}},
               {"mark": {"type": "text", "color": "#000", "fill": "#000", "fontSize": 7, "baseline": "alphabetic", "dy": 2}, "encoding": {"y": {"field": "hi", "type": "quantitative"}, "text": {"field": "s"}}}
              ]}
            ]}
          ]
         }
        ]
       },
       {
        "spacing": 16,
        "resolve": {"scale": {"color": "independent"}},
        "vconcat": [
         {
          "bounds": "flush", "spacing": 0,
          "resolve": {"scale": {"color": "independent"}},
          "hconcat": [
           {"width": 54, "height": 123, "data": {"values": []}, "mark": "rule", "encoding": {}},
           {
            "bounds": "flush", "spacing": 38,
            "resolve": {"scale": {"color": "independent"}},
            "hconcat": [
             {"width": 172, "height": 123, "data": {"name": "pr4"},
              "resolve": {"scale": {"x": "independent", "y": "independent", "xOffset": "independent"}},
              "layer": [
               {"layer": [
                 {"transform": [{"filter": "datum.p == 'm'"}],
                  "encoding": {
                    "x": {"field": "o", "type": "nominal", "scale": {"domain": ["Root", "Stem", "Leaf"], "paddingInner": 0.42, "paddingOuter": 0.72, "align": 0.48}, "axis": {"title": null, "labelAngle": 0, "labelFontSize": 12, "labelPadding": 4, "tickSize": 3, "domainWidth": 1.2}},
                    "xOffset": {"field": "g", "type": "nominal", "scale": {"domain": ["W0", "F1", "Ghlmm"]}}},
                  "layer": [
                   {"mark": {"type": "bar", "stroke": "#333", "strokeWidth": 0.4}, "encoding": {
                     "y": {"field": "v", "type": "quantitative", "scale": {"domain": [0, 1.6], "nice": false}, "axis": {"values": [0, 0.4, 0.8, 1.2, 1.6], "tickCount": 20, "format": ".1f", "labelOverlap": false, "title": "Relative expression", "titleFontSize": 11, "titlePadding": 0, "minExtent": 38, "maxExtent": 38, "labelFontSize": 11, "tickSize": 3, "labelPadding": 2, "domainWidth": 1.2}},
                     "color": {"field": "g", "type": "nominal", "scale": {"domain": ["W0", "F1", "Ghlmm"], "range": ["#000000", "#b5b5b5", "#4f4f4f"]}, "legend": null}}},
                   {"mark": {"type": "rule", "color": "#000", "strokeWidth": 0.8}, "encoding": {"y": {"field": "v", "type": "quantitative"}, "y2": {"field": "hi"}}},
                   {"mark": {"type": "tick", "orient": "horizontal", "color": "#000", "size": 4, "thickness": 0.8}, "encoding": {"y": {"field": "hi", "type": "quantitative"}}},
                   {"mark": {"type": "text", "color": "#000", "fill": "#000", "stroke": "#000", "strokeWidth": 0.3, "fontSize": 12, "baseline": "alphabetic", "dy": 3}, "encoding": {"y": {"field": "hi", "type": "quantitative"}, "text": {"field": "s"}}}
                  ]},
                 {"data": {"values": [{"t": "GhPR4"}]}, "mark": {"type": "text", "color": "#000", "fontSize": 12.5, "fontStyle": "italic", "baseline": "middle", "dy": -2}, "encoding": {"x": {"datum": "Stem"}, "y": {"datum": 1.6}, "text": {"field": "t"}}}
               ]},
               {"transform": [{"filter": "datum.p == 'i'"}],
                "encoding": {
                  "x": {"field": "o", "type": "nominal", "scale": {"domain": ["Root", "Stem"], "range": [26, 111], "paddingInner": 0.345, "paddingOuter": 0.64, "align": 0.47}, "axis": {"orient": "bottom", "offset": -35, "title": null, "labelAngle": 0, "labelFontSize": 8.5, "labelPadding": 4, "ticks": false, "domainWidth": 0.8, "zindex": 1}},
                  "xOffset": {"field": "g", "type": "nominal", "scale": {"domain": ["W0", "F1", "Ghlmm"]}}},
                "layer": [
                 {"mark": {"type": "bar", "stroke": "#333", "strokeWidth": 0.3}, "encoding": {
                   "y": {"field": "v", "type": "quantitative", "scale": {"domain": [0, 0.012], "range": [88, 27], "nice": false, "zero": false}, "axis": {"orient": "left", "offset": -26, "values": [0, 0.004, 0.008, 0.012], "tickCount": 20, "format": ".3f", "labelOverlap": false, "title": null, "labelFontSize": 4.5, "tickSize": 2, "labelPadding": 1, "domainWidth": 0.8, "zindex": 1}},
                   "color": {"field": "g", "type": "nominal", "scale": {"domain": ["W0", "F1", "Ghlmm"], "range": ["#000000", "#b5b5b5", "#4f4f4f"]}, "legend": null}}},
                 {"mark": {"type": "rule", "color": "#000", "strokeWidth": 0.6}, "encoding": {"y": {"field": "v", "type": "quantitative"}, "y2": {"field": "hi"}}},
                 {"mark": {"type": "tick", "orient": "horizontal", "color": "#000", "size": 3, "thickness": 0.6}, "encoding": {"y": {"field": "hi", "type": "quantitative"}}},
                 {"mark": {"type": "text", "color": "#000", "fill": "#000", "fontSize": 7, "baseline": "alphabetic", "dy": 2}, "encoding": {"y": {"field": "hi", "type": "quantitative"}, "text": {"field": "s"}}}
                ]}
              ]},
             {"width": 169, "height": 123, "data": {"name": "pr5"},
              "resolve": {"scale": {"x": "independent", "y": "independent", "xOffset": "independent"}},
              "layer": [
               {"layer": [
                 {"transform": [{"filter": "datum.p == 'm'"}],
                  "encoding": {
                    "x": {"field": "o", "type": "nominal", "scale": {"domain": ["Root", "Stem", "Leaf"], "paddingInner": 0.365, "paddingOuter": 0.67, "align": 0.553}, "axis": {"title": null, "labelAngle": 0, "labelFontSize": 12, "labelPadding": 4, "tickSize": 3, "domainWidth": 1.2}},
                    "xOffset": {"field": "g", "type": "nominal", "scale": {"domain": ["W0", "F1", "Ghlmm"]}}},
                  "layer": [
                   {"mark": {"type": "bar", "stroke": "#333", "strokeWidth": 0.4}, "encoding": {
                     "y": {"field": "v", "type": "quantitative", "scale": {"domain": [0, 6], "nice": false}, "axis": {"values": [0, 1, 2, 3, 4, 5, 6], "tickCount": 20, "format": "d", "labelOverlap": false, "title": null, "labelFontSize": 11, "tickSize": 3, "labelPadding": 2, "domainWidth": 1.2}},
                     "color": {"field": "g", "type": "nominal", "scale": {"domain": ["W0", "F1", "Ghlmm"], "range": ["#000000", "#b5b5b5", "#4f4f4f"]}, "legend": null}}},
                   {"mark": {"type": "rule", "color": "#000", "strokeWidth": 0.8}, "encoding": {"y": {"field": "v", "type": "quantitative"}, "y2": {"field": "hi"}}},
                   {"mark": {"type": "tick", "orient": "horizontal", "color": "#000", "size": 4, "thickness": 0.8}, "encoding": {"y": {"field": "hi", "type": "quantitative"}}},
                   {"mark": {"type": "text", "color": "#000", "fill": "#000", "stroke": "#000", "strokeWidth": 0.3, "fontSize": 12, "baseline": "alphabetic", "dy": 3}, "encoding": {"y": {"field": "hi", "type": "quantitative"}, "text": {"field": "s"}}}
                  ]},
                 {"data": {"values": [{"t": "GhPR5"}]}, "mark": {"type": "text", "color": "#000", "fontSize": 12.5, "fontStyle": "italic", "baseline": "middle", "dy": -3}, "encoding": {"x": {"datum": "Stem"}, "y": {"datum": 6}, "text": {"field": "t"}}}
               ]},
               {"transform": [{"filter": "datum.p == 'i'"}],
                "encoding": {
                  "x": {"field": "o", "type": "nominal", "scale": {"domain": ["Root", "Stem"], "range": [41, 120], "paddingInner": 0.43, "paddingOuter": 0.625, "align": 0.43}, "axis": {"orient": "bottom", "offset": -34, "title": null, "labelAngle": 0, "labelFontSize": 8.5, "labelPadding": 4, "ticks": false, "domainWidth": 0.8, "zindex": 1}},
                  "xOffset": {"field": "g", "type": "nominal", "scale": {"domain": ["W0", "F1", "Ghlmm"]}}},
                "layer": [
                 {"mark": {"type": "bar", "stroke": "#333", "strokeWidth": 0.3}, "encoding": {
                   "y": {"field": "v", "type": "quantitative", "scale": {"domain": [0, 0.016], "range": [89, 28], "nice": false, "zero": false}, "axis": {"orient": "left", "offset": -41, "values": [0, 0.004, 0.008, 0.012, 0.016], "tickCount": 20, "format": ".3f", "labelOverlap": false, "title": null, "labelFontSize": 4.5, "tickSize": 2, "labelPadding": 1, "domainWidth": 0.8, "zindex": 1}},
                   "color": {"field": "g", "type": "nominal", "scale": {"domain": ["W0", "F1", "Ghlmm"], "range": ["#000000", "#b5b5b5", "#4f4f4f"]}, "legend": null}}},
                 {"mark": {"type": "rule", "color": "#000", "strokeWidth": 0.6}, "encoding": {"y": {"field": "v", "type": "quantitative"}, "y2": {"field": "hi"}}},
                 {"mark": {"type": "tick", "orient": "horizontal", "color": "#000", "size": 3, "thickness": 0.6}, "encoding": {"y": {"field": "hi", "type": "quantitative"}}},
                 {"mark": {"type": "text", "color": "#000", "fill": "#000", "fontSize": 7, "baseline": "alphabetic", "dy": 2}, "encoding": {"y": {"field": "hi", "type": "quantitative"}, "text": {"field": "s"}}}
                ]}
              ]},
             {"width": 173, "height": 123, "data": {"name": "pr6"},
              "resolve": {"scale": {"x": "independent", "y": "independent", "xOffset": "independent"}},
              "layer": [
               {"layer": [
                 {"transform": [{"filter": "datum.p == 'm'"}],
                  "encoding": {
                    "x": {"field": "o", "type": "nominal", "scale": {"domain": ["Root", "Stem", "Leaf"], "paddingInner": 0.42, "paddingOuter": 0.72, "align": 0.48}, "axis": {"title": null, "labelAngle": 0, "labelFontSize": 12, "labelPadding": 4, "tickSize": 3, "domainWidth": 1.2}},
                    "xOffset": {"field": "g", "type": "nominal", "scale": {"domain": ["W0", "F1", "Ghlmm"]}}},
                  "layer": [
                   {"mark": {"type": "bar", "stroke": "#333", "strokeWidth": 0.4}, "encoding": {
                     "y": {"field": "v", "type": "quantitative", "scale": {"domain": [0, 0.4], "nice": false}, "axis": {"values": [0, 0.1, 0.2, 0.3, 0.4], "tickCount": 20, "format": ".1f", "labelOverlap": false, "title": null, "labelFontSize": 11, "tickSize": 3, "labelPadding": 2, "domainWidth": 1.2}},
                     "color": {"field": "g", "type": "nominal", "scale": {"domain": ["W0", "F1", "Ghlmm"], "range": ["#000000", "#b5b5b5", "#4f4f4f"]},
                       "legend": {"title": null, "orient": "none", "legendX": 164, "legendY": -5, "padding": 0, "symbolType": "M-1.8,-0.5H1.8V0.5H-1.8Z", "symbolSize": 25, "symbolStrokeColor": "#333", "symbolStrokeWidth": 0.4, "labelFontSize": 8.5, "labelOffset": 3, "rowPadding": 1.5, "labelExpr": "datum.value == 'F1' ? '(W0 ×Ghlmm)F₁' : datum.value"}}}},
                   {"mark": {"type": "rule", "color": "#000", "strokeWidth": 0.8}, "encoding": {"y": {"field": "v", "type": "quantitative"}, "y2": {"field": "hi"}}},
                   {"mark": {"type": "tick", "orient": "horizontal", "color": "#000", "size": 4, "thickness": 0.8}, "encoding": {"y": {"field": "hi", "type": "quantitative"}}},
                   {"mark": {"type": "text", "color": "#000", "fill": "#000", "stroke": "#000", "strokeWidth": 0.3, "fontSize": 12, "baseline": "alphabetic", "dy": 3}, "encoding": {"y": {"field": "hi", "type": "quantitative"}, "text": {"field": "s"}}}
                  ]},
                 {"data": {"values": [{"t": "GhPR6"}]}, "mark": {"type": "text", "color": "#000", "fontSize": 12.5, "fontStyle": "italic", "baseline": "middle", "dy": -2}, "encoding": {"x": {"datum": "Stem"}, "y": {"datum": 0.4}, "text": {"field": "t"}}}
               ]},
               {"transform": [{"filter": "datum.p == 'i'"}],
                "encoding": {
                  "x": {"field": "o", "type": "nominal", "scale": {"domain": ["Root", "Stem"], "range": [29, 115], "paddingInner": 0.41, "paddingOuter": 0.69, "align": 0.51}, "axis": {"orient": "bottom", "offset": -34, "title": null, "labelAngle": 0, "labelFontSize": 8.5, "labelPadding": 4, "ticks": false, "domainWidth": 0.8, "zindex": 1}},
                  "xOffset": {"field": "g", "type": "nominal", "scale": {"domain": ["W0", "F1", "Ghlmm"]}}},
                "layer": [
                 {"mark": {"type": "bar", "stroke": "#333", "strokeWidth": 0.3}, "encoding": {
                   "y": {"field": "v", "type": "quantitative", "scale": {"domain": [0, 0.005], "range": [89, 27], "nice": false, "zero": false}, "axis": {"orient": "left", "offset": -29, "values": [0, 0.001, 0.002, 0.003, 0.004, 0.005], "tickCount": 20, "format": ".3f", "labelOverlap": false, "title": null, "labelFontSize": 4.5, "tickSize": 2, "labelPadding": 1, "domainWidth": 0.8, "zindex": 1}},
                   "color": {"field": "g", "type": "nominal", "scale": {"domain": ["W0", "F1", "Ghlmm"], "range": ["#000000", "#b5b5b5", "#4f4f4f"]}, "legend": null}}},
                 {"mark": {"type": "rule", "color": "#000", "strokeWidth": 0.6}, "encoding": {"y": {"field": "v", "type": "quantitative"}, "y2": {"field": "hi"}}},
                 {"mark": {"type": "tick", "orient": "horizontal", "color": "#000", "size": 3, "thickness": 0.6}, "encoding": {"y": {"field": "hi", "type": "quantitative"}}},
                 {"mark": {"type": "text", "color": "#000", "fill": "#000", "fontSize": 7, "baseline": "alphabetic", "dy": 2}, "encoding": {"y": {"field": "hi", "type": "quantitative"}, "text": {"field": "s"}}}
                ]}
              ]}
            ]
           }
          ]
         },
         {
          "bounds": "flush", "spacing": 0,
          "resolve": {"scale": {"color": "independent"}},
          "hconcat": [
           {"width": 54, "height": 125, "data": {"values": []}, "mark": "rule", "encoding": {}},
           {"width": 160, "height": 125, "data": {"name": "pr10"},
            "resolve": {"scale": {"x": "independent", "y": "independent", "xOffset": "independent"}},
            "layer": [
             {"layer": [
               {"transform": [{"filter": "datum.p == 'm'"}],
                "encoding": {
                  "x": {"field": "o", "type": "nominal", "scale": {"domain": ["Root", "Stem", "Leaf"], "paddingInner": 0.42, "paddingOuter": 0.56, "align": 0.579}, "axis": {"title": null, "labelAngle": 0, "labelFontSize": 12, "labelPadding": 4, "tickSize": 3, "domainWidth": 1.2}},
                  "xOffset": {"field": "g", "type": "nominal", "scale": {"domain": ["W0", "F1", "Ghlmm"]}}},
                "layer": [
                 {"mark": {"type": "bar", "stroke": "#333", "strokeWidth": 0.4}, "encoding": {
                   "y": {"field": "v", "type": "quantitative", "scale": {"domain": [0, 1, 2, 12.2], "range": [125, 65, 58, 0], "nice": false, "zero": false}, "axis": {"values": [0, 0.5, 1, 2, 4, 6, 8, 10, 12], "tickCount": 20, "format": ".1f", "labelOverlap": false, "title": "Relative expression", "titleFontSize": 11, "titlePadding": 0, "minExtent": 38, "maxExtent": 38, "labelFontSize": 11, "tickSize": 3, "labelPadding": 2, "domainWidth": 1.2}},
                   "color": {"field": "g", "type": "nominal", "scale": {"domain": ["W0", "F1", "Ghlmm"], "range": ["#000000", "#b5b5b5", "#4f4f4f"]},
                     "legend": {"title": null, "orient": "none", "legendX": 168, "legendY": 12, "padding": 0, "symbolType": "M-1.8,-0.5H1.8V0.5H-1.8Z", "symbolSize": 25, "symbolStrokeColor": "#333", "symbolStrokeWidth": 0.4, "labelFontSize": 8.5, "labelOffset": 3, "rowPadding": 1.5, "labelExpr": "datum.value == 'F1' ? '(W0 ×Ghlmm)F₁' : datum.value"}}}},
                 {"mark": {"type": "rule", "color": "#000", "strokeWidth": 0.8}, "encoding": {"y": {"field": "v", "type": "quantitative"}, "y2": {"field": "hi"}}},
                 {"mark": {"type": "tick", "orient": "horizontal", "color": "#000", "size": 4, "thickness": 0.8}, "encoding": {"y": {"field": "hi", "type": "quantitative"}}},
                 {"mark": {"type": "text", "color": "#000", "fill": "#000", "stroke": "#000", "strokeWidth": 0.3, "fontSize": 12, "baseline": "alphabetic", "dy": 3}, "encoding": {"y": {"field": "hi", "type": "quantitative"}, "text": {"field": "s"}}}
                ]},
               {"data": {"values": [{"k": 1}]}, "mark": {"type": "rect", "color": "#fff", "stroke": "#fff", "strokeWidth": 2}, "encoding": {"y": {"datum": 1.02}, "y2": {"datum": 1.98}}},
               {"data": {"values": [{"t": "GhPR10"}]}, "mark": {"type": "text", "color": "#000", "fontSize": 12.5, "fontStyle": "italic", "baseline": "middle", "dy": 0}, "encoding": {"x": {"datum": "Stem"}, "y": {"datum": 12.2}, "text": {"field": "t"}}}
             ]},
             {"transform": [{"filter": "datum.p == 'i'"}],
              "encoding": {
                "x": {"field": "o", "type": "nominal", "scale": {"domain": ["Root", "Stem"], "range": [30, 103], "paddingInner": 0.33, "paddingOuter": 0.445, "align": 0.71}, "axis": {"orient": "bottom", "offset": -46, "title": null, "labelAngle": 0, "labelFontSize": 8.5, "labelPadding": 4, "ticks": false, "domainWidth": 0.8, "zindex": 1}},
                "xOffset": {"field": "g", "type": "nominal", "scale": {"domain": ["W0", "F1", "Ghlmm"]}}},
              "layer": [
               {"mark": {"type": "bar", "stroke": "#333", "strokeWidth": 0.3}, "encoding": {
                 "y": {"field": "v", "type": "quantitative", "scale": {"domain": [0, 0.35], "range": [79, 18], "nice": false, "zero": false}, "axis": {"orient": "left", "offset": -30, "values": [0, 0.05, 0.1, 0.15, 0.2, 0.25, 0.3, 0.35], "tickCount": 20, "format": ".2f", "labelOverlap": false, "title": null, "labelFontSize": 4.5, "tickSize": 2, "labelPadding": 1, "domainWidth": 0.8, "zindex": 1}},
                 "color": {"field": "g", "type": "nominal", "scale": {"domain": ["W0", "F1", "Ghlmm"], "range": ["#000000", "#b5b5b5", "#4f4f4f"]}, "legend": null}}},
               {"mark": {"type": "rule", "color": "#000", "strokeWidth": 0.6}, "encoding": {"y": {"field": "v", "type": "quantitative"}, "y2": {"field": "hi"}}},
               {"mark": {"type": "tick", "orient": "horizontal", "color": "#000", "size": 3, "thickness": 0.6}, "encoding": {"y": {"field": "hi", "type": "quantitative"}}},
               {"mark": {"type": "text", "color": "#000", "fill": "#000", "fontSize": 7, "baseline": "alphabetic", "dy": 2}, "encoding": {"y": {"field": "hi", "type": "quantitative"}, "text": {"field": "s"}}}
              ]}
            ]}
          ]
         }
        ]
       }
      ]
     }
    ]
   }
  ]
 }
]
}
